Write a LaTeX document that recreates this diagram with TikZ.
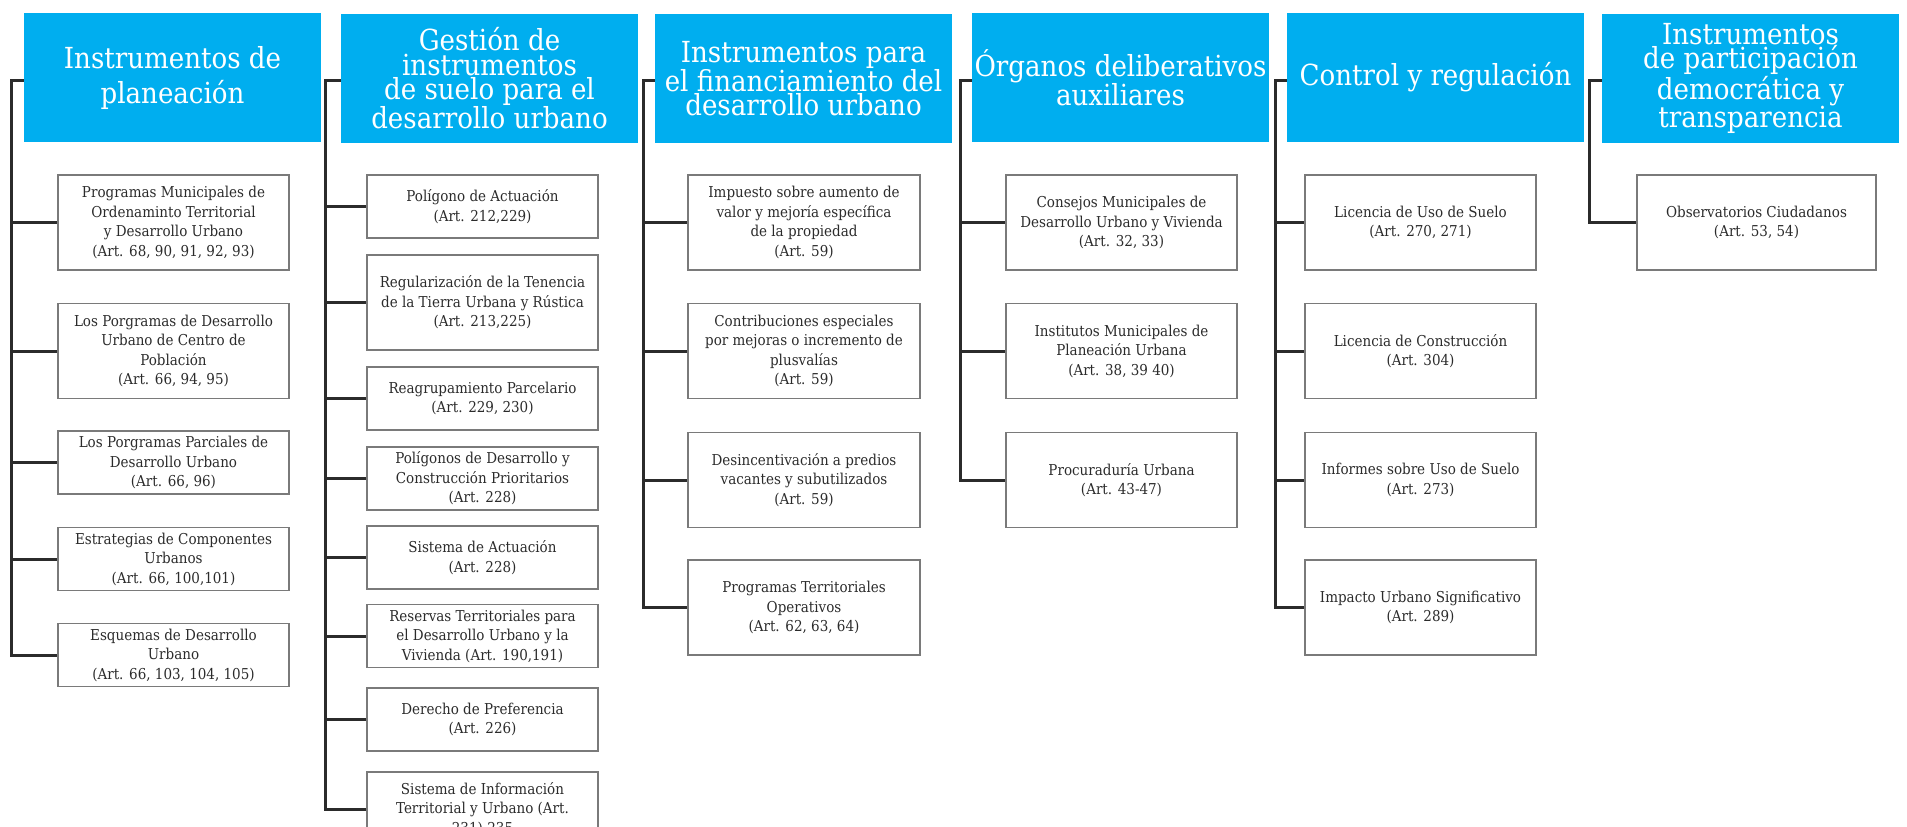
\documentclass[tikz,border=0pt]{standalone}
\usepackage{fontspec}
\setmainfont{DejaVu Serif Condensed}
\definecolor{headblue}{HTML}{00AEEF}
\definecolor{linegray}{HTML}{2B2B2B}
\definecolor{boxgray}{HTML}{7A7A7A}
\tikzset{
  head/.style = {fill=headblue, text=white, minimum width=297pt, minimum height=129pt,
    align=center, inner sep=0pt, font=\fontsize{29}{24.5}\selectfont},
  item/.style = {draw=boxgray, line width=1.4pt, text=linegray, minimum width=231pt,
    minimum height=63pt, align=center, inner sep=0pt, font=\fontsize{15}{19.5}\selectfont},
  tall/.style = {minimum height=95pt},
  tree/.style = {draw=linegray, line width=3pt},
}

\begin{document}
\begin{tikzpicture}[x=1pt, y=-1pt]
\useasboundingbox (0,0) rectangle (1907,827);
\clip (0,0) rectangle (1907,827);

% headers
\node[head, font=\fontsize{29}{35}\selectfont] (h1) at (172.5,77.5) {Instrumentos de\\planeación};
\node[head] (h2) at (489.5,78.5) {Gestión de\\instrumentos\\de suelo para el\\desarrollo urbano};
\node[head] (h3) at (803.5,78.5) {Instrumentos para\\el financiamiento del\\desarrollo urbano};
\node[head] (h4) at (1120.5,77.5) {Órganos deliberativos\\auxiliares};
\node[head] (h5) at (1435.5,77.5) {Control y regulación};
\node[head] (h6) at (1750.5,78.5) {Instrumentos\\de participación\\democrática y\\transparencia};

% planeacion
\node[item, tall] (b1) at (173.5,222.5) {Programas Municipales de\\Ordenaminto Territorial\\y Desarrollo Urbano\\(Art. 68, 90, 91, 92, 93)};
\node[item, tall] (b2) at (173.5,351) {Los Porgramas de Desarrollo\\Urbano de Centro de\\Población\\(Art. 66, 94, 95)};
\node[item] (b3) at (173.5,462.5) {Los Porgramas Parciales de\\Desarrollo Urbano\\(Art. 66, 96)};
\node[item] (b4) at (173.5,559) {Estrategias de Componentes\\Urbanos\\(Art. 66, 100,101)};
\node[item] (b5) at (173.5,655) {Esquemas de Desarrollo\\Urbano\\(Art. 66, 103, 104, 105)};

% gestion de suelo
\node[item] (c1) at (482.5,206.5) {Polígono de Actuación\\(Art. 212,229)};
\node[item, tall] (c2) at (482.5,302.5) {Regularización de la Tenencia\\de la Tierra Urbana y Rústica\\(Art. 213,225)};
\node[item] (c3) at (482.5,398.5) {Reagrupamiento Parcelario\\(Art. 229, 230)};
\node[item] (c4) at (482.5,478.5) {Polígonos de Desarrollo y\\Construcción Prioritarios\\(Art. 228)};
\node[item] (c5) at (482.5,557.5) {Sistema de Actuación\\(Art. 228)};
\node[item] (c6) at (482.5,636) {Reservas Territoriales para\\el Desarrollo Urbano y la\\Vivienda (Art. 190,191)};
\node[item] (c7) at (482.5,719.5) {Derecho de Preferencia\\(Art. 226)};
\node[item, minimum height=74pt] (c8) at (482.5,809) {Sistema de Información\\Territorial y Urbano (Art.\\231)-235};

% financiamiento
\node[item, tall, minimum width=232pt] (d1) at (804,222.5) {Impuesto sobre aumento de\\valor y mejoría específica\\de la propiedad\\(Art. 59)};
\node[item, tall, minimum width=232pt] (d2) at (804,351) {Contribuciones especiales\\por mejoras o incremento de\\plusvalías\\(Art. 59)};
\node[item, tall, minimum width=232pt] (d3) at (804,480) {Desincentivación a predios\\vacantes y subutilizados\\(Art. 59)};
\node[item, tall, minimum width=232pt] (d4) at (804,607.5) {Programas Territoriales\\Operativos\\(Art. 62, 63, 64)};

% organos
\node[item, tall] (e1) at (1121.5,222.5) {Consejos Municipales de\\Desarrollo Urbano y Vivienda\\(Art. 32, 33)};
\node[item, tall] (e2) at (1121.5,351) {Institutos Municipales de\\Planeación Urbana\\(Art. 38, 39 40)};
\node[item, tall] (e3) at (1121.5,480) {Procuraduría Urbana\\(Art. 43-47)};

% control
\node[item, tall] (f1) at (1420.5,222.5) {Licencia de Uso de Suelo\\(Art. 270, 271)};
\node[item, tall] (f2) at (1420.5,351) {Licencia de Construcción\\(Art. 304)};
\node[item, tall] (f3) at (1420.5,480) {Informes sobre Uso de Suelo\\(Art. 273)};
\node[item, tall] (f4) at (1420.5,607.5) {Impacto Urbano Significativo\\(Art. 289)};

% participacion
\node[item, tall, minimum width=239pt] (g1) at (1756.5,222.5) {Observatorios Ciudadanos\\(Art. 53, 54)};

% trunks
\coordinate (t1) at (11,80);
\coordinate (t2) at (325,80);
\coordinate (t3) at (643,80);
\coordinate (t4) at (960,80);
\coordinate (t5) at (1275,80);
\coordinate (t6) at (1589,80);
\draw[tree] (h1.west |- t1) -- (t1) |- (b5.west);
\foreach \n in {b1,b2,b3,b4} \draw[tree] (t1 |- \n.west) -- (\n.west);
\draw[tree] (h2.west |- t2) -- (t2) |- (c8.west);
\foreach \n in {c1,c2,c3,c4,c5,c6,c7} \draw[tree] (t2 |- \n.west) -- (\n.west);
\draw[tree] (h3.west |- t3) -- (t3) |- (d4.west);
\foreach \n in {d1,d2,d3} \draw[tree] (t3 |- \n.west) -- (\n.west);
\draw[tree] (h4.west |- t4) -- (t4) |- (e3.west);
\foreach \n in {e1,e2} \draw[tree] (t4 |- \n.west) -- (\n.west);
\draw[tree] (h5.west |- t5) -- (t5) |- (f4.west);
\foreach \n in {f1,f2,f3} \draw[tree] (t5 |- \n.west) -- (\n.west);
\draw[tree] (h6.west |- t6) -- (t6) |- (g1.west);
\end{tikzpicture}
\end{document}
